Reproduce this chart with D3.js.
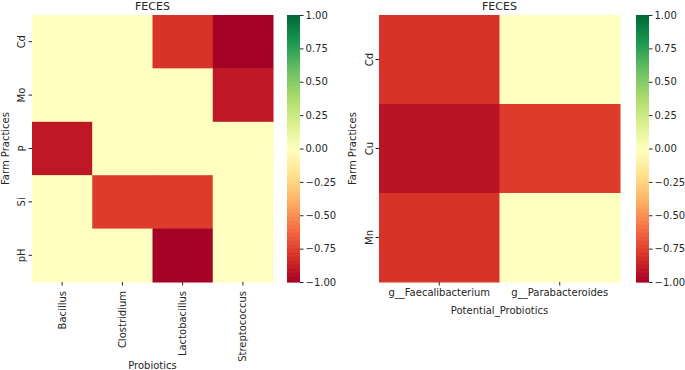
<!DOCTYPE html>
<html>
<head>
<meta charset="utf-8">
<script src="https://cdn.jsdelivr.net/npm/d3@7"></script>
<style>
  body { margin: 0; background: #fff; }
  text { font-family: "DejaVu Sans", sans-serif; fill: #262626; }
</style>
</head>
<body>
<div id="chart"></div>
<script>
// left panel
const leftRows = ["Cd", "Mo", "P", "Si", "pH"];
const leftCols = ["Bacillus", "Clostridium", "Lactobacillus", "Streptococcus"];
const leftValues = [
  [0, 0, -0.79, -1.0],
  [0, 0, 0, -0.9],
  [-0.9, 0, 0, 0],
  [0, -0.76, -0.76, 0],
  [0, 0, -1.0, 0]
];

// right panel
const rightRows = ["Cd", "Cu", "Mn"];
const rightCols = ["g__Faecalibacterium", "g__Parabacteroides"];
const rightValues = [
  [-0.79, 0],
  [-0.92, -0.76],
  [-0.79, 0]
];

const cbarTicks = [1, 0.75, 0.5, 0.25, 0, -0.25, -0.5, -0.75, -1];

// RdYlGn anchor colours (matplotlib)
const rdYlGn = ["#a50026", "#d73027", "#f46d43", "#fdae61", "#fee08b", "#ffffbf",
                "#d9ef8b", "#a6d96a", "#66bd63", "#1a9850", "#006837"];

const width = 685, height = 370;
const svg = d3.select("#chart").append("svg")
  .attr("width", width)
  .attr("height", height);

const color = d3.scaleLinear()
  .domain(d3.range(11).map(i => -1 + i * 0.2))
  .range(rdYlGn)
  .interpolate(d3.interpolateRgb)
  .clamp(true);
const fmt = d => d3.format(".2f")(d).replace("-", "\u2212");

function drawPanel(opt) {
  const { rows, cols, values, x0, x1, y0, y1, cbX, xLabel, rotateX, yLabelX, tickLabelY } = opt;
  const xScale = d3.scaleBand().domain(cols).range([x0, x1]);
  const yScale = d3.scaleBand().domain(rows).range([y0, y1]);

  const cells = [];
  rows.forEach((r, i) => cols.forEach((c, j) => cells.push({ r, c, v: values[i][j] })));

  svg.append("g").selectAll("rect")
    .data(cells)
    .join("rect")
    .attr("x", d => xScale(d.c))
    .attr("y", d => yScale(d.r))
    .attr("width", xScale.bandwidth() + 0.5)
    .attr("height", yScale.bandwidth() + 0.5)
    .attr("fill", d => color(d.v));

  // title
  svg.append("text")
    .attr("x", (x0 + x1) / 2)
    .attr("y", 10)
    .attr("text-anchor", "middle")
    .attr("font-size", 11)
    .text("FECES");

  // y axis
  const yAxis = svg.append("g")
    .attr("transform", `translate(${x0},0)`)
    .call(d3.axisLeft(yScale).tickSize(3.5).tickPadding(3));
  yAxis.select(".domain").remove();
  yAxis.selectAll("line").attr("stroke", "#262626");
  yAxis.selectAll("text")
    .attr("font-size", 10)
    .attr("transform", function(d) {
      return `rotate(-90,${-6.5},${yScale(d) + yScale.bandwidth() / 2})`;
    })
    .attr("x", -6.5)
    .attr("y", d => yScale(d) + yScale.bandwidth() / 2)
    .attr("dy", "0em")
    .attr("text-anchor", "middle");
  yAxis.selectAll(".tick").attr("transform", null);
  yAxis.selectAll(".tick line")
    .attr("y1", d => yScale(d) + yScale.bandwidth() / 2)
    .attr("y2", d => yScale(d) + yScale.bandwidth() / 2);

  svg.append("text")
    .attr("transform", `translate(${yLabelX},${(y0 + y1) / 2}) rotate(-90)`)
    .attr("text-anchor", "middle")
    .attr("font-size", 10)
    .text("Farm Practices");

  // x axis
  const xAxis = svg.append("g")
    .attr("transform", `translate(0,${y1})`)
    .call(d3.axisBottom(xScale).tickSize(3.5).tickPadding(3));
  xAxis.select(".domain").remove();
  xAxis.selectAll("line").attr("stroke", "#262626");
  if (rotateX) {
    xAxis.selectAll("text")
      .attr("font-size", 10)
      .attr("text-anchor", "end")
      .attr("transform", "rotate(-90)")
      .attr("x", -9)
      .attr("y", 0)
      .attr("dy", "0.35em");
  } else {
    xAxis.selectAll("text").attr("font-size", 10);
  }

  svg.append("text")
    .attr("x", (x0 + x1) / 2)
    .attr("y", tickLabelY)
    .attr("text-anchor", "middle")
    .attr("font-size", 10)
    .text(xLabel);

  // colorbar
  const cbW = 13;
  const cScale = d3.scaleLinear().domain([-1, 1]).range([y1, y0]);
  const steps = d3.range(0, 200);
  const stepH = (y1 - y0) / 200;
  svg.append("g").selectAll("rect")
    .data(steps)
    .join("rect")
    .attr("x", cbX)
    .attr("y", d => y1 - (d + 1) * stepH)
    .attr("width", cbW)
    .attr("height", stepH + 0.6)
    .attr("fill", d => color(-1 + (d + 0.5) / 100));

  const cAxis = svg.append("g")
    .attr("transform", `translate(${cbX + cbW},0)`)
    .call(d3.axisRight(cScale).tickValues(cbarTicks).tickFormat(fmt).tickSize(3.5).tickPadding(2));
  cAxis.select(".domain").remove();
  cAxis.selectAll("line").attr("stroke", "#262626");
  cAxis.selectAll("text").attr("font-size", 10);
}

drawPanel({
  rows: leftRows, cols: leftCols, values: leftValues,
  x0: 32, x1: 273, y0: 15, y1: 282, cbX: 287,
  xLabel: "Probiotics", rotateX: true, yLabelX: 9, tickLabelY: 369
});

drawPanel({
  rows: rightRows, cols: rightCols, values: rightValues,
  x0: 379, x1: 620, y0: 15, y1: 282, cbX: 636,
  xLabel: "Potential_Probiotics", rotateX: false, yLabelX: 356, tickLabelY: 314
});
</script>
</body>
</html>
